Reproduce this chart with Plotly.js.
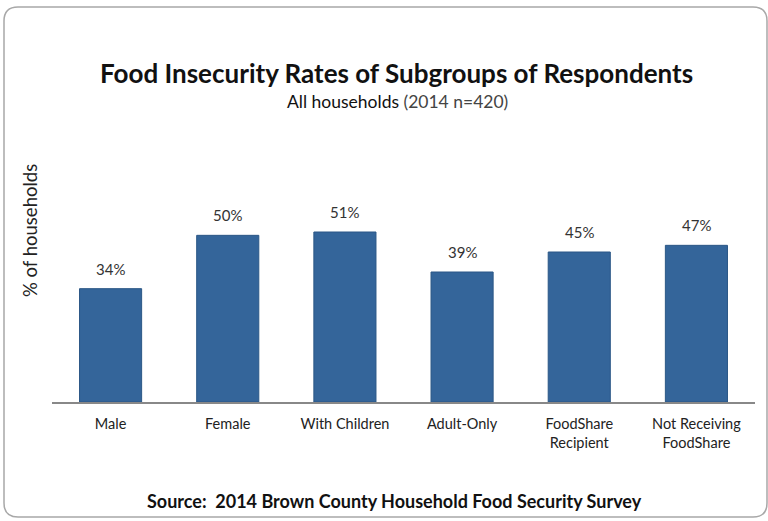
<!DOCTYPE html>
<html><head><meta charset="utf-8">
<script src="https://cdn.plot.ly/plotly-3.0.1.min.js"></script>
<style>body{margin:0;background:#fff}#chart{width:768px;height:521px}</style>
</head><body><div id="chart"></div>
<script>
const categories = ["Male", "Female", "With Children", "Adult-Only", "FoodShare<br>Recipient", "Not Receiving<br>FoodShare"];
const values = [34, 50, 51, 39, 45, 47];
const valueLabels = ["34%", "50%", "51%", "39%", "45%", "47%"];

const W = 768, H = 521;
const L = 52, R = 13, T = 202, B = 119;
const pw = W - L - R, ph = H - T - B;
const px = x => (x - L) / pw;
const py = y => (H - B - y) / ph;

const bx0 = 4, bx1 = 767, by0 = 7, by1 = 517, rad = 14;
function P(x, y) { return px(x) + ',' + py(y); }
const borderPath = 'M' + P(bx0 + rad, by0) + ' L' + P(bx1 - rad, by0) + ' Q' + P(bx1, by0) + ' ' + P(bx1, by0 + rad) +
  ' L' + P(bx1, by1 - rad) + ' Q' + P(bx1, by1) + ' ' + P(bx1 - rad, by1) +
  ' L' + P(bx0 + rad, by1) + ' Q' + P(bx0, by1) + ' ' + P(bx0, by1 - rad) +
  ' L' + P(bx0, by0 + rad) + ' Q' + P(bx0, by0) + ' ' + P(bx0 + rad, by0) + ' Z';

const font = "Lato, 'Open Sans', sans-serif";

const labelAnns = categories.map((c, i) => ({
  x: c, y: values[i], xref: 'x', yref: 'y', text: valueLabels[i], showarrow: false,
  yanchor: 'middle', yshift: 20, font: {family: font, size: 15, color: '#333'}
}));

Plotly.newPlot('chart', [{
  type: 'bar', x: categories, y: values,
  marker: {color: '#34659a', line: {color: '#2b5786', width: 1}},
  hoverinfo: 'none'
}], {
  width: W, height: H,
  margin: {l: L, r: R, t: T, b: B},
  paper_bgcolor: '#fff', plot_bgcolor: '#fff',
  showlegend: false,
  bargap: 0.47,
  xaxis: {showline: true, linecolor: '#888', linewidth: 1.5, ticks: '', showgrid: false, ticklabelstandoff: 8,
    tickfont: {family: font, size: 14.5, color: '#222'}, fixedrange: true},
  yaxis: {range: [0, 60], visible: false, showgrid: false, fixedrange: true},
  shapes: [{type: 'path', xref: 'paper', yref: 'paper', path: borderPath,
    line: {color: '#a8a8a8', width: 1.5}, fillcolor: 'rgba(0,0,0,0)'}],
  annotations: labelAnns.concat([
    {xref: 'paper', yref: 'paper', x: px(396), y: py(73), xanchor: 'center', yanchor: 'middle', showarrow: false,
     text: '<b>Food Insecurity Rates of Subgroups of Respondents</b>', font: {family: font, size: 26, color: '#111'}},
    {xref: 'paper', yref: 'paper', x: px(397), y: py(101), xanchor: 'center', yanchor: 'middle', showarrow: false,
     text: 'All households <span style="color:#444">(2014 n=420)</span>', font: {family: font, size: 17.5, color: '#111'}},
    {xref: 'paper', yref: 'paper', x: px(30), y: py(231), xanchor: 'center', yanchor: 'middle', showarrow: false, textangle: -90,
     text: '% of households', font: {family: font, size: 18.5, color: '#222'}},
    {xref: 'paper', yref: 'paper', x: px(394), y: py(501), xanchor: 'center', yanchor: 'middle', showarrow: false,
     text: '<b>Source:  2014 Brown County Household Food Security Survey</b>', font: {family: font, size: 18, color: '#111'}}
  ])
}, {displayModeBar: false, staticPlot: true});
</script></body></html>
